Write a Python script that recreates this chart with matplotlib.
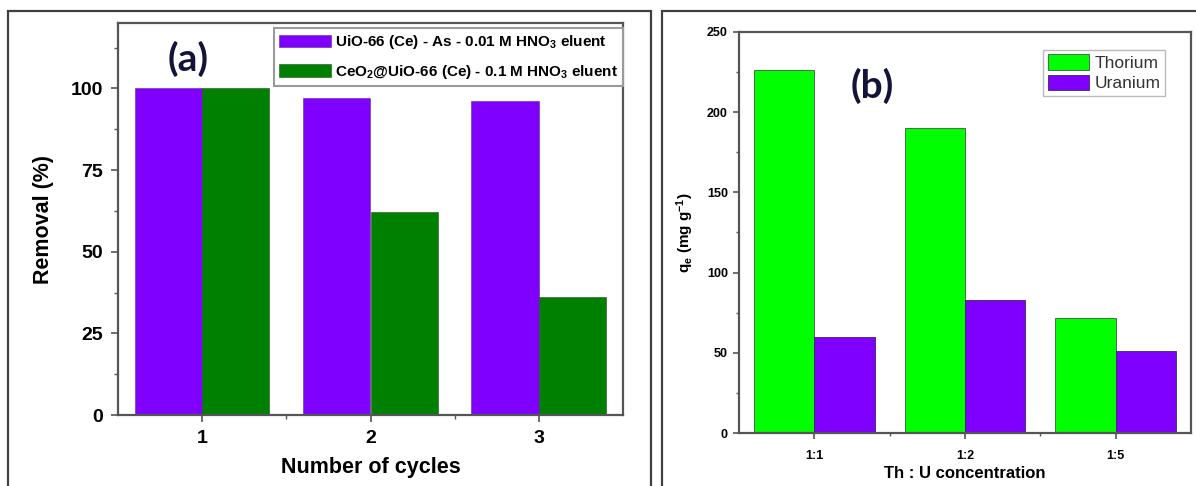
import matplotlib

matplotlib.use("Agg")
import matplotlib.pyplot as plt  # noqa: E402
from matplotlib.patches import Rectangle  # noqa: E402
from matplotlib.ticker import AutoMinorLocator, FixedLocator  # noqa: E402

plt.rcParams["font.family"] = ["Liberation Sans", "DejaVu Sans"]
plt.rcParams["mathtext.fontset"] = "custom"
plt.rcParams["mathtext.rm"] = "Liberation Sans"
plt.rcParams["mathtext.bf"] = "Liberation Sans:bold"
plt.rcParams["mathtext.it"] = "Liberation Sans:italic"

# panel (a): regeneration cycles
cycles = [1, 2, 3]
uio_as = [100, 97, 96]
ceo2_uio = [100, 62, 36]
label_uio = r"UiO-66 (Ce) - As - 0.01 M HNO$_\mathbf{3}$ eluent"
label_ceo2 = r"CeO$_\mathbf{2}$@UiO-66 (Ce) - 0.1 M HNO$_\mathbf{3}$ eluent"

# panel (b): Th/U competition
ratios = ["1:1", "1:2", "1:5"]
thorium = [226, 190, 72]
uranium = [60, 83, 51]

PURPLE = "#7f00ff"
DKGREEN = "#008000"
LTGREEN = "#00ff00"
SPINE = "#555555"

W, H = 1196, 486
fig = plt.figure(figsize=(W / 100, H / 100), dpi=100)


def px_rect(x0, y0, x1, y1):
    return [x0 / W, 1 - y1 / H, (x1 - x0) / W, (y1 - y0) / H]


# panel frames
for x0, x1 in [(8, 651), (662, 1205)]:
    fig.patches.append(Rectangle((x0 / W, -0.05), (x1 - x0) / W, 1.05 - 11 / H,
                                 transform=fig.transFigure, fill=False,
                                 ec="#404040", lw=1.6))


def style_axes(ax, fs, length=5, pad=3):
    for s in ax.spines.values():
        s.set_color(SPINE)
        s.set_linewidth(1.6)
    ax.tick_params(which="major", direction="out", length=length, width=1.2,
                   color=SPINE, labelsize=fs, pad=pad)
    ax.tick_params(which="minor", direction="out", length=length * 0.6,
                   width=1.0, color=SPINE)
    for lab in ax.get_xticklabels() + ax.get_yticklabels():
        lab.set_fontweight("bold")


# ---- (a)
ax = fig.add_axes(px_rect(118, 23, 623, 415))
w = 0.4
ax.bar([c - w / 2 for c in cycles], uio_as, w, color=PURPLE, ec="#5a2a8a",
       lw=0.4, label=label_uio)
ax.bar([c + w / 2 for c in cycles], ceo2_uio, w, color=DKGREEN, ec="#1f4f1f",
       lw=0.4, label=label_ceo2)
ax.set_xlim(0.5, 3.5)
ax.set_ylim(0, 120)
ax.set_xticks(cycles)
ax.set_yticks([0, 25, 50, 75, 100])
ax.xaxis.set_minor_locator(FixedLocator([1.5, 2.5]))
ax.yaxis.set_minor_locator(AutoMinorLocator(2))
style_axes(ax, 14, pad=6)
ax.set_xlabel("Number of cycles", fontsize=15.5, fontweight="bold", labelpad=7)
ax.set_ylabel("Removal (%)", fontsize=15.5, fontweight="bold", labelpad=12)
leg = ax.legend(loc="upper right", bbox_to_anchor=(1.0, 1 - 5 / 392),
                borderaxespad=0, prop={"weight": "bold", "size": 11},
                handlelength=3.4, handleheight=0.85, handletextpad=0.25,
                labelspacing=0.75, borderpad=0.35, fancybox=False,
                edgecolor="#9a9a9a", framealpha=1)
leg.get_frame().set_linewidth(1.5)
ax.text(0.139, 0.908, "(a)", transform=ax.transAxes, fontsize=28,
        fontweight="bold", color="#14143a", ha="center", va="center",
        family=["Lato", "DejaVu Sans"])

# ---- (b)
bx = fig.add_axes(px_rect(739, 32, 1191, 433))
pos = list(range(1, len(ratios) + 1))
bx.bar([p - w / 2 for p in pos], thorium, w, color=LTGREEN, ec="#3a5a3a",
       lw=0.6, label="Thorium")
bx.bar([p + w / 2 for p in pos], uranium, w, color=PURPLE, ec="#3a2a5a",
       lw=0.6, label="Uranium")
bx.set_xlim(0.5, 3.5)
bx.set_ylim(0, 250)
bx.set_xticks(pos)
bx.set_xticklabels(ratios)
bx.set_yticks([0, 50, 100, 150, 200, 250])
bx.xaxis.set_minor_locator(FixedLocator([1.5, 2.5]))
bx.yaxis.set_minor_locator(AutoMinorLocator(2))
style_axes(bx, 9, length=4, pad=4)
bx.tick_params(axis="x", pad=8)
bx.set_xlabel("Th : U concentration", fontsize=12, fontweight="bold", labelpad=3)
bx.set_ylabel(r"q$_\mathbf{e}$ (mg g$^\mathbf{-1}$)", fontsize=11,
              fontweight="bold", labelpad=8)
leg = bx.legend(loc="upper right", bbox_to_anchor=(0.9425, 0.955),
                borderaxespad=0, prop={"size": 12.5}, handlelength=2.4,
                handleheight=1.0, handletextpad=0.3, labelspacing=0.2,
                borderpad=0.25, fancybox=False, edgecolor="#bbbbbb",
                framealpha=1)
for t in leg.get_texts():
    t.set_color("#333333")
bx.text(0.294, 0.865, "(b)", transform=bx.transAxes, fontsize=28,
        fontweight="bold", color="#14143a", ha="center", va="center",
        family=["Lato", "DejaVu Sans"])

fig.savefig("out.png", dpi=100)
